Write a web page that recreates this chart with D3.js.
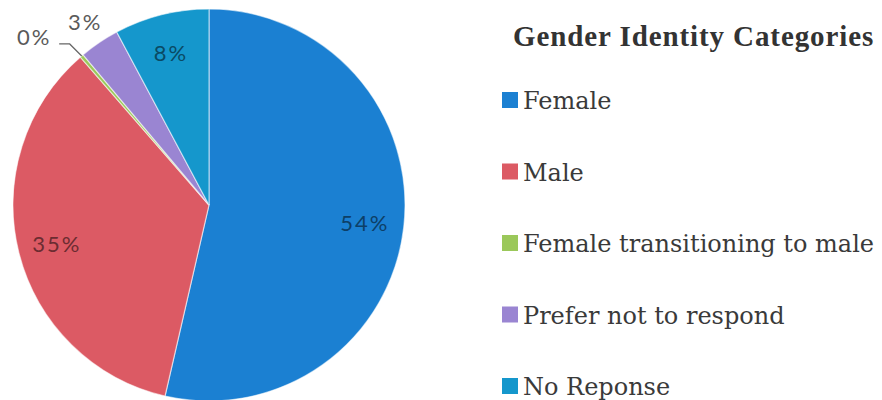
<!DOCTYPE html>
<html>
<head>
<meta charset="utf-8">
<script src="https://cdn.jsdelivr.net/npm/d3@7"></script>
<style>
  body { margin: 0; background: #fff; }
  svg { display: block; }
</style>
</head>
<body>
<svg id="chart"></svg>
<script>
// data
var categories = ["Female", "Male", "Female transitioning to male", "Prefer not to respond", "No Reponse"];
var shares = [53.6, 35.0, 0.3, 3.3, 7.8];
var pctLabels = ["54%", "35%", "0%", "3%", "8%"];
var colors = ["#1b80d2", "#dc5a64", "#9bc85a", "#9a85d2", "#1597cc"];
var legendTitle = "Gender Identity Categories";

var width = 882, height = 400;
var cx = 209, cy = 205, radius = 196;

var svg = d3.select("#chart").attr("width", width).attr("height", height);

var data = categories.map(function(c, i) {
    return { name: c, value: shares[i], label: pctLabels[i], color: colors[i] };
});

var pie = d3.pie().sort(null).value(function(d) { return d.value; });
var arc = d3.arc().innerRadius(0).outerRadius(radius);
var labelArc = d3.arc().innerRadius(radius * 0.8).outerRadius(radius * 0.8);
var outArc = d3.arc().innerRadius(radius * 1.13).outerRadius(radius * 1.13);

var arcs = pie(data);

var g = svg.append("g").attr("transform", "translate(" + cx + "," + cy + ")");

g.selectAll("path.slice")
    .data(arcs)
    .enter()
    .append("path")
    .attr("class", "slice")
    .attr("d", arc)
    .attr("fill", function(d) { return d.data.color; })
    .attr("stroke", "#ffffff")
    .attr("stroke-opacity", 0.55)
    .attr("stroke-width", 1.2);

// inside labels for the big slices, outside for the small ones
arcs.forEach(function(d, i) {
    var inside = d.data.value > 5;
    var p = inside ? labelArc.centroid(d) : outArc.centroid(d);
    var fill = inside ? d3.color(d.data.color).darker(2.0) : "#5a5a5a";
    if (i === 2) {
        // tiny slice: label pushed left with a leader line
        var ea = (d.startAngle + d.endAngle) / 2;
        var ex = Math.sin(ea) * radius, ey = -Math.cos(ea) * radius;
        var tx = p[0] - 31, ty = p[1];
        g.append("polyline")
            .attr("points", [[ex, ey], [ex - 12, ey - 12], [tx + 25, ey - 12]].map(function(q) { return q.join(","); }).join(" "))
            .attr("fill", "none")
            .attr("stroke", "#666")
            .attr("stroke-width", 1.2);
        p = [tx, ty];
    }
    g.append("text")
        .attr("x", p[0])
        .attr("y", p[1])
        .attr("text-anchor", "middle")
        .attr("dominant-baseline", "central")
        .attr("font-family", "Lato, 'Open Sans', sans-serif")
        .attr("font-size", 22)
        .attr("letter-spacing", 2)
        .attr("fill", fill)
        .text(d.data.label);
});

// legend
var legend = svg.append("g");

legend.append("text")
    .attr("x", 513)
    .attr("y", 46)
    .attr("font-family", "'Liberation Serif', serif")
    .attr("font-weight", "bold")
    .attr("font-size", 29)
    .attr("letter-spacing", 0.9)
    .attr("fill", "#333")
    .text(legendTitle);

var rowY = d3.scalePoint().domain(categories).range([100, 386]);

var items = legend.selectAll("g.item")
    .data(data)
    .enter()
    .append("g")
    .attr("class", "item")
    .attr("transform", function(d) { return "translate(502," + rowY(d.name) + ")"; });

items.append("rect")
    .attr("x", 0)
    .attr("y", -8)
    .attr("width", 16)
    .attr("height", 16)
    .attr("fill", function(d) { return d.color; });

items.append("text")
    .attr("x", 21)
    .attr("y", 9)
    .attr("font-family", "'DejaVu Serif', serif")
    .attr("font-size", 24)
    .attr("fill", "#3a3a3a")
    .text(function(d) { return d.name; });
</script>
</body>
</html>
